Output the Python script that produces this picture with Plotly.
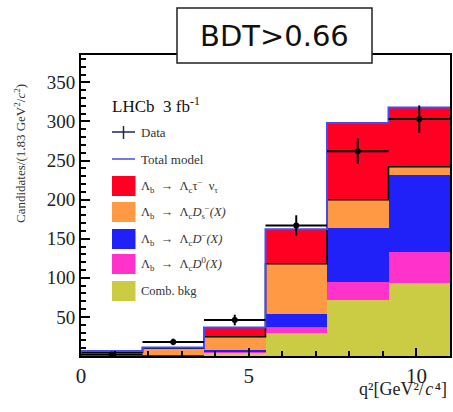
import plotly.graph_objects as go

# ---- data ----
bin_edges = [0.0, 1.833, 3.667, 5.5, 7.333, 9.167, 11.0]
comb_bkg = [1.0, 0.5, 4.0, 29.5, 71.0, 93.5]
lb_d0 = [0.5, 0.3, 1.5, 7.5, 24.0, 39.5]
lb_dminus = [1.0, 0.5, 2.0, 17.0, 69.0, 99.0]
lb_ds = [2.0, 8.5, 17.0, 64.0, 36.0, 10.0]
lb_taunu = [2.0, 1.0, 12.0, 44.0, 98.0, 76.0]
data_counts = [2.0, 18.0, 46.0, 167.0, 262.0, 303.0]
data_err = [1.5, 4.2, 6.8, 13.0, 16.5, 17.5]
x_ticks = [0, 5, 10]
y_ticks = [50, 100, 150, 200, 250, 300, 350]

centers = [(a + b) / 2 for a, b in zip(bin_edges[:-1], bin_edges[1:])]
widths = [b - a for a, b in zip(bin_edges[:-1], bin_edges[1:])]

comps = [
    (comb_bkg, "#cccc44", "Comb. bkg"),
    (lb_d0, "#ff33cc", "D0"),
    (lb_dminus, "#2020f8", "D-"),
    (lb_ds, "#ff9944", "Ds"),
    (lb_taunu, "#ff0022", "tau"),
]

fig = go.Figure()
for vals, col, name in comps:
    fig.add_trace(go.Bar(x=centers, y=vals, width=widths, marker=dict(color=col, line=dict(width=0)),
                         name=name, showlegend=False))

# cumulative sums
cum = [0.0] * len(centers)
cums = []
for vals, _, _ in comps:
    cum = [c + v for c, v in zip(cum, vals)]
    cums.append(cum)

orange_top = cums[3]
total = cums[4]

def step(vals):
    xs = [bin_edges[0]] + bin_edges
    ys = [0.0] + list(vals) + [vals[-1]]
    return xs, ys

sx, sy = step(orange_top)
fig.add_trace(go.Scatter(x=sx, y=sy, mode="lines", line=dict(color="black", width=1.5, shape="hv"),
                         showlegend=False, hoverinfo="skip"))
tx, ty = step(total)
fig.add_trace(go.Scatter(x=tx, y=ty, mode="lines", line=dict(color="#4a4af0", width=2, shape="hv"),
                         showlegend=False, hoverinfo="skip"))

fig.add_trace(go.Scatter(
    x=centers, y=data_counts, mode="markers",
    marker=dict(color="black", size=6),
    error_y=dict(type="data", array=data_err, color="black", thickness=2, width=0),
    error_x=dict(type="data", array=[w / 2 for w in widths], color="black", thickness=2, width=0),
    showlegend=False))

serif = "Liberation Serif"

fig.update_layout(
    width=453, height=412,
    margin=dict(l=81, r=3, t=55, b=56, autoexpand=False),
    paper_bgcolor="white", plot_bgcolor="white",
    barmode="stack", bargap=0,
    font=dict(family=serif, color="#222222"),
    xaxis=dict(range=[0, 11], tickvals=x_ticks, ticks="inside", ticklen=8, tickwidth=1.5,
               tickcolor="black", showgrid=False, zeroline=False, showline=True, linecolor="black",
               linewidth=2, mirror=True, tickfont=dict(size=21, family=serif, color="#222"),
               automargin=False,
               minor=dict(dtick=1, ticks="inside", ticklen=5, tickcolor="black")),
    yaxis=dict(range=[0, 385], tickvals=y_ticks, ticks="inside", ticklen=9, tickwidth=1.5,
               tickcolor="black", showgrid=False, zeroline=False, showline=True, linecolor="black",
               linewidth=2, mirror=True, tickfont=dict(size=19, family=serif, color="#222"),
               automargin=False,
               minor=dict(dtick=10, ticks="inside", ticklen=5, tickcolor="black")),
    showlegend=False,
)

def px(x):
    return (x - 81) / 369

def py(y):
    return (356 - y) / 301

def note(x, y, text, size, family=serif, color="#333", xanchor="left", yanchor="middle", angle=0):
    fig.add_annotation(x=px(x), y=py(y), xref="paper", yref="paper", xanchor=xanchor, yanchor=yanchor,
                       text=text, showarrow=False, textangle=angle,
                       font=dict(size=size, family=family, color=color))

# axis titles
note(20, 153, "Candidates/(1.83 GeV<sup>2</sup>/<i>c</i><sup>2</sup>)", 13, xanchor="center", angle=-90)
note(449, 389, "q²[GeV²/&#8202;<i>c</i>&#8202;⁴]", 18, color="#222", xanchor="right")

# BDT box
fig.add_shape(type="rect", xref="paper", yref="paper",
              x0=px(177), x1=px(372), y0=py(63), y1=py(8),
              fillcolor="white", line=dict(color="#222", width=1.5), layer="above")
note(274, 36, "BDT&gt;0.66", 29, family="DejaVu Sans", color="#111", xanchor="center")

# legend (manual)
note(110, 105, "LHCb  3 fb<sup>-1</sup>", 17, color="#111")

fig.add_shape(type="line", xref="paper", yref="paper", x0=px(112), x1=px(135), y0=py(132), y1=py(132),
              line=dict(color="#222266", width=1.5))
fig.add_shape(type="line", xref="paper", yref="paper", x0=px(123.5), x1=px(123.5), y0=py(126), y1=py(139),
              line=dict(color="#222266", width=1.5))
note(139, 132, "Data", 13)
fig.add_shape(type="line", xref="paper", yref="paper", x0=px(112), x1=px(135), y0=py(159), y1=py(159),
              line=dict(color="#7777ee", width=2))
note(139, 159, "Total model", 13)

sp = "&nbsp;&nbsp;"
leg_items = [
    ("#ff0022", 186, f"Λ<sub>b</sub>{sp}→{sp}Λ<sub>c</sub>τ<sup>−</sup>{sp}ν<sub>τ</sub>"),
    ("#ff9944", 212, f"Λ<sub>b</sub>{sp}→{sp}Λ<sub>c</sub><i>D</i><sub>s</sub><sup>−</sup><i>(X)</i>"),
    ("#2020f8", 239, f"Λ<sub>b</sub>{sp}→{sp}Λ<sub>c</sub><i>D</i><sup>−</sup><i>(X)</i>"),
    ("#ff33cc", 264, f"Λ<sub>b</sub>{sp}→{sp}Λ<sub>c</sub><i>D</i><sup>0</sup><i>(X)</i>"),
    ("#cccc44", 291, "Comb. bkg"),
]
for col, yc, txt in leg_items:
    fig.add_shape(type="rect", xref="paper", yref="paper", x0=px(112), x1=px(135.5),
                  y0=py(yc + 10), y1=py(yc - 10), fillcolor=col, line=dict(width=0))
    note(139, yc, txt, 12.5)

fig.write_html("out.html", config={"displayModeBar": False},
               post_script="document.body.style.margin='0';")
